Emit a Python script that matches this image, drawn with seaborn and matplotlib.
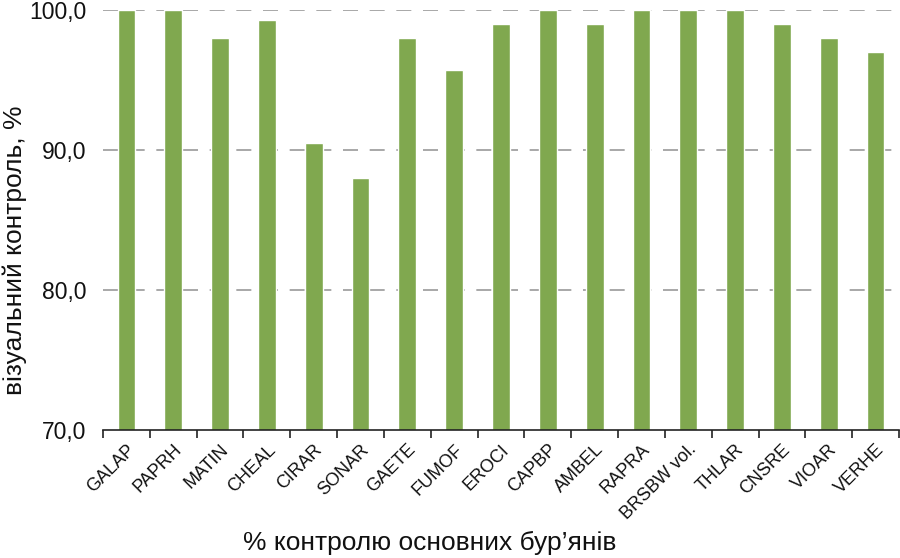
import matplotlib
matplotlib.use("Agg")
import matplotlib.pyplot as plt
import seaborn as sns
import pandas as pd
from matplotlib.ticker import FixedLocator, FuncFormatter

categories = ["GALAP", "PAPRH", "MATIN", "CHEAL", "CIRAR", "SONAR", "GAETE", "FUMOF",
              "EROCI", "CAPBP", "AMBEL", "RAPRA", "BRSBW vol.", "THLAR", "CNSRE", "VIOAR", "VERHE"]
values = [100.0, 100.0, 98.0, 99.3, 90.5, 88.0, 98.0, 95.7,
          99.0, 100.0, 99.0, 100.0, 100.0, 100.0, 99.0, 98.0, 97.0]
y_ticks = [70, 80, 90, 100]
y_label = "візуальний контроль, %"
x_label = "% контролю основних бур’янів"

sns.set_theme(style="white")
plt.rcParams["font.family"] = ["Liberation Sans", "DejaVu Sans"]

df = pd.DataFrame({"cat": categories, "val": values})

fig = plt.figure(figsize=(9, 5.58), dpi=100)
ax = fig.add_axes([103/900, 1-430/558, 796/900, 420/558])

for y in [80, 90, 100]:
    ax.axhline(y, color="#999999", lw=1.2, linestyle=(0, (9, 7)), zorder=0)

sns.barplot(data=df, x="cat", y="val", color="#80A84F", width=0.38,
            saturation=1, ax=ax, zorder=2)

ax.set_ylim(70, 100)
ax.set_xlim(-0.5, len(categories) - 0.5)
ax.set_yticks(y_ticks)
ax.yaxis.set_major_formatter(FuncFormatter(lambda v, p: f"{v:.1f}".replace(".", ",")))
ax.tick_params(axis="y", length=0, pad=12, labelsize=16.5, colors="#111111")

ax.set_xticks(range(len(categories)))
ax.set_xticklabels(categories, rotation=45, ha="right", rotation_mode="anchor", fontsize=13)
ax.tick_params(axis="x", which="major", length=0, pad=8, colors="#111111")
ax.xaxis.set_minor_locator(FixedLocator([i - 0.5 for i in range(len(categories) + 1)]))
ax.tick_params(axis="x", which="minor", bottom=True, length=6, width=1.2, color="#222222")

for s in ["top", "right", "left"]:
    ax.spines[s].set_visible(False)
ax.spines["bottom"].set_color("#222222")
ax.spines["bottom"].set_linewidth(1.2)

ax.set_xlabel("")
ax.set_ylabel("")
fig.text(15/900, 1-250/558, y_label, rotation=90, ha="center", va="center", fontsize=19, color="#111111")
fig.text(430/900, 1-543/558, x_label, ha="center", va="center", fontsize=19, color="#111111")

fig.savefig("out.png", dpi=100)
